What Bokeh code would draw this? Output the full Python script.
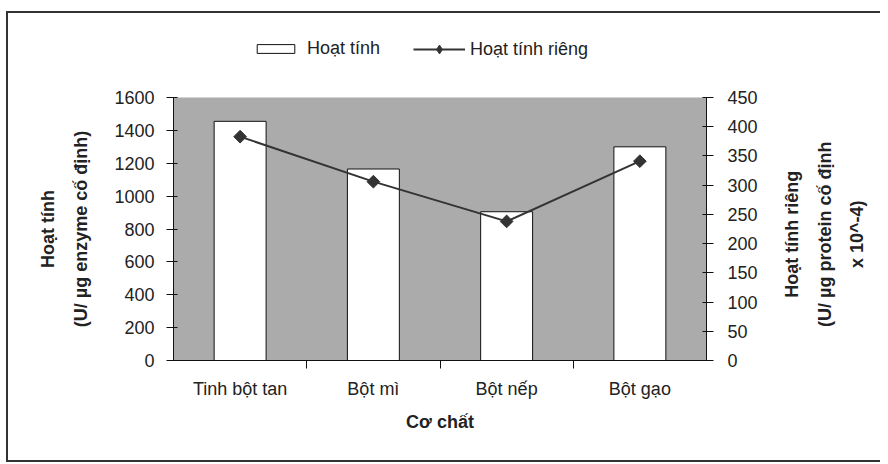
import numpy as np
from bokeh.plotting import figure
from bokeh.layouts import gridplot
from bokeh.models import (Range1d, LinearAxis, FixedTicker, Legend, LegendItem,
                          ColumnDataSource, Label)
from bokeh.embed import file_html
from bokeh.resources import INLINE

categories = ["Tinh bột tan", "Bột mì", "Bột nếp", "Bột gạo"]
hoat_tinh = [1455, 1165, 905, 1300]
hoat_tinh_rieng = [383, 306, 238, 341]
left_ticks = [0, 200, 400, 600, 800, 1000, 1200, 1400, 1600]
right_ticks = [0, 50, 100, 150, 200, 250, 300, 350, 400, 450]
right_title = ["Hoạt tính riêng", "(U/ µg protein cố định", "x 10^-4)"]

FONT = "Liberation Sans"
TXT = "#222222"

xpos = np.arange(len(categories)) + 0.5
src = ColumnDataSource(dict(x=xpos, ht=hoat_tinh, htr=hoat_tinh_rieng))

BAR = dict(width=0.39, fill_color="white", line_color="#111111", line_width=1)
LINE = dict(line_color="#333333", line_width=2)
MARK = dict(marker="square", angle=np.pi / 4, size=9, fill_color="#333333",
            line_color="#333333")
LMARK = dict(marker="diamond", size=9, fill_color="#333333", line_color="#333333")

# ---------- main chart ----------
p = figure(width=760, height=379, output_backend="svg", toolbar_location=None,
           x_range=Range1d(0, len(categories)), y_range=Range1d(0, 1600),
           min_border_left=165, min_border_right=62, min_border_top=26,
           min_border_bottom=90)
p.extra_y_ranges = {"r": Range1d(0, 450)}
p.background_fill_color = "#ababab"
p.outline_line_color = None
p.grid.visible = False

p.vbar(x="x", top="ht", source=src, **BAR)
p.line(x="x", y="htr", source=src, y_range_name="r", **LINE)
p.scatter(x="x", y="htr", source=src, y_range_name="r", **MARK)

xa = p.xaxis[0]
xa.ticker = FixedTicker(ticks=list(xpos), minor_ticks=[1, 2, 3])
xa.major_label_overrides = {float(x): c for x, c in zip(xpos, categories)}
xa.minor_tick_out = 8
xa.minor_tick_in = 0
xa.minor_tick_line_color = "#111111"
xa.major_label_standoff = 10
xa.axis_label = "Cơ chất"
xa.axis_label_standoff = 10

ya = p.yaxis[0]
ya.ticker = FixedTicker(ticks=left_ticks)
ya.axis_label = "Hoạt tính\n(U/ µg enzyme cố định)"
ya.axis_label_text_line_height = 1.66
ya.axis_label_standoff = 20
ya.major_tick_in = 4
ya.major_tick_out = 7
ya.minor_tick_line_color = None
ya.major_label_standoff = 12

ra = LinearAxis(y_range_name="r", ticker=FixedTicker(ticks=right_ticks))
ra.major_tick_in = 4
ra.major_tick_out = 7
ra.minor_tick_line_color = None
ra.major_label_standoff = 14
p.add_layout(ra, "right")

for ax in [xa, ya, ra]:
    ax.major_label_text_font = FONT
    ax.major_label_text_font_size = "18px"
    ax.major_label_text_color = TXT
    ax.axis_label_text_font = FONT
    ax.axis_label_text_font_size = "18px"
    ax.axis_label_text_font_style = "bold"
    ax.axis_label_text_color = TXT
    ax.axis_line_color = "#111111"
    ax.major_tick_line_color = "#111111"
xa.major_tick_line_color = None

# ---------- legend strip (its glyphs lie outside its ranges) ----------
lg = figure(width=760, height=58, output_backend="svg", toolbar_location=None,
            x_range=Range1d(100, 101), y_range=Range1d(10000, 10001),
            x_axis_location=None, y_axis_location=None, min_border=0)
lg.outline_line_color = None
lg.grid.visible = False
rb = lg.vbar(x="x", top="ht", source=src, **BAR)
rl = lg.line(x="x", y="htr", source=src, **LINE)
rm = lg.scatter(x="x", y="htr", source=src, **LMARK)
LEG = dict(orientation="horizontal", padding=0, margin=0, border_line_color=None,
           background_fill_alpha=0, label_text_font=FONT,
           label_text_font_size="18px", label_text_color=TXT)
leg1 = Legend(items=[LegendItem(label="Hoạt tính", renderers=[rb])],
              location=(79, 12), glyph_width=47, glyph_height=11,
              label_standoff=8, label_height=20, **LEG)
leg2 = Legend(items=[LegendItem(label="Hoạt tính riêng", renderers=[rl, rm])],
              location=(240, 10), glyph_width=52, glyph_height=22,
              label_standoff=5, label_height=24, **LEG)
lg.add_layout(leg1, "center")
lg.add_layout(leg2, "center")

# ---------- right title strip ----------
rt = figure(width=112, height=379, output_backend="svg", toolbar_location=None,
            x_range=Range1d(0, 1), y_range=Range1d(0, 1),
            x_axis_location=None, y_axis_location=None, min_border=0)
rt.outline_line_color = None
rt.grid.visible = False
for i, t in enumerate(right_title):
    rt.add_layout(Label(x=0.214 + i * 0.29, y=0.48, text=t, angle=np.pi / 2,
                        text_align="center", text_baseline="middle",
                        text_font=FONT, text_font_size="18px",
                        text_font_style="bold", text_color=TXT))

grid = gridplot([[lg, None], [p, rt]], toolbar_location=None)
grid.styles = {"border-left": "2px solid #333333",
               "border-top": "2px solid #333333",
               "border-bottom": "2px solid #333333",
               "margin-top": "11px", "margin-left": "6px",
               "padding-bottom": "10px"}

open("out.html", "w").write(file_html(grid, INLINE))
